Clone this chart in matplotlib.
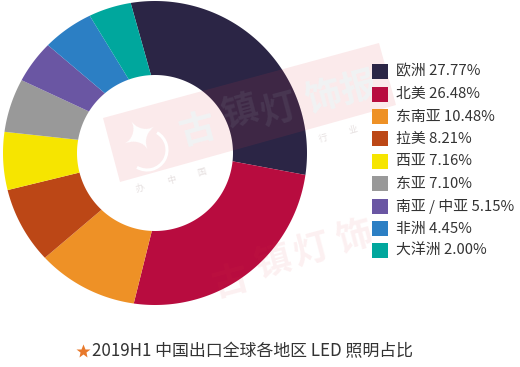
import matplotlib
matplotlib.use('Agg')
from matplotlib import pyplot as plt
from matplotlib.patches import Arc, Polygon, Rectangle
from matplotlib.path import Path
import numpy as np

plt.rcParams['font.family'] = ['Noto Sans CJK SC', 'DejaVu Sans']

regions = ['欧洲', '北美', '东南亚', '拉美', '西亚', '东亚', '南亚 / 中亚', '非洲', '大洋洲']
shares = ['27.77%', '26.48%', '10.48%', '8.21%', '7.16%', '7.10%', '5.15%', '4.45%', '2.00%']
# the drawn slices do not follow the printed shares, so these are read off the ring (degrees)
drawn_sweep = [116.3, 93.4, 35.7, 26.6, 19.9, 18.7, 15.3, 18.3, 15.8]
colors = ['#2B2545', '#B80C3F', '#EE9126', '#BC4716', '#F6E500',
          '#999999', '#6A56A3', '#2C7FC4', '#00A79D']
caption = '2019H1 中国出口全球各地区 LED 照明占比'
mark_chars = ['古', '镇', '灯', '饰', '报']
mark_small = ['办', '中', '国', '行', '业']

H = 367
fig = plt.figure(figsize=(5.2, 3.67), dpi=100)
ax = fig.add_axes([0, 0, 1, 1])

# slices fan out from a point right of the ring centre
wedges, _ = ax.pie(drawn_sweep, colors=colors, startangle=105.7, counterclock=False,
                   center=(172, H - 150), radius=400)

ax.set_xlim(0, 520)
ax.set_ylim(0, H)
ax.set_aspect('auto')
ax.axis('off')

# ring with a real hole, the watermark shows through it
t = np.linspace(0, 2 * np.pi, 400)
outer = Path(np.c_[155 + 152 * np.cos(t), H - 153 + 152 * np.sin(t)], closed=True)
inner = Path(np.c_[155 + 78 * np.cos(-t), H - 153 + 78 * np.sin(-t)], closed=True)
ring = Path.make_compound_path(outer, inner)
for w in wedges:
    w.set_clip_on(True)
    w.set_clip_path(ring, ax.transData)
    w.set_zorder(2)

# watermark band
band = [(103, H - 118), (379, H - 43), (396, H - 105), (120, H - 182)]
ax.add_patch(Polygon(band, closed=True, fc='#E0404A', ec='none', alpha=0.11, zorder=1))
over = ax.add_patch(Polygon(band, closed=True, fc='#E0404A', ec='none', alpha=0.11, zorder=3))
over.set_clip_path(ring, ax.transData)

mark_x = [197, 240, 279, 323, 358]
mark_y = [130, 113, 110, 97, 88]
for ch, x, y in zip(mark_chars, mark_x, mark_y):
    ax.text(x, H - y, ch, fontsize=26, color='white', rotation=15, ha='center', va='center',
            fontweight='bold', zorder=1.5)
    txt = ax.text(x, H - y, ch, fontsize=26, color='#8FA0A8', rotation=15, ha='center', va='center',
                  fontweight='bold', alpha=0.13, zorder=3.5)
    txt.set_clip_path(ring, ax.transData)

# second faint copy of the watermark, lower right
for ch, x, y in zip(mark_chars[:4], [230, 273, 312, 354], [282, 263, 250, 237]):
    ax.text(x, H - y, ch, fontsize=26, color='#E0404A', rotation=15, ha='center', va='center',
            fontweight='bold', alpha=0.08, zorder=3.5)

# logo on the band
ax.text(141, H - 137, '✦', fontsize=32, color='white', family='DejaVu Sans', rotation=30,
        ha='center', va='center', zorder=1.5)
ax.add_patch(Arc((147, H - 150), 40, 40, angle=0, theta1=-120, theta2=60, ec='white', lw=2.2, zorder=1.5))

for ch, x, y in zip(mark_small, [140, 172, 202, 323, 353], [188, 180, 172, 138, 130]):
    ax.text(x, H - y, ch, fontsize=6.5, color='#E6E0E0', rotation=15, ha='center', va='center', zorder=1.5)

# legend
for i, (r, s, c) in enumerate(zip(regions, shares, colors)):
    y = H - (71.7 + i * 22.4)
    ax.add_patch(Rectangle((372, y - 7.5), 16, 15, fc=c, ec='none', zorder=5))
    ax.text(396, y, r + ' ' + s, fontsize=10.7, color='#333333', va='center', ha='left', zorder=5)

ax.plot([83], [H - 351], marker='*', ms=10, color='#E8792B', mec='none')
ax.text(92, H - 351, caption, fontsize=12.2, color='#333333', va='center', ha='left')

fig.savefig('out.png', dpi=100)
